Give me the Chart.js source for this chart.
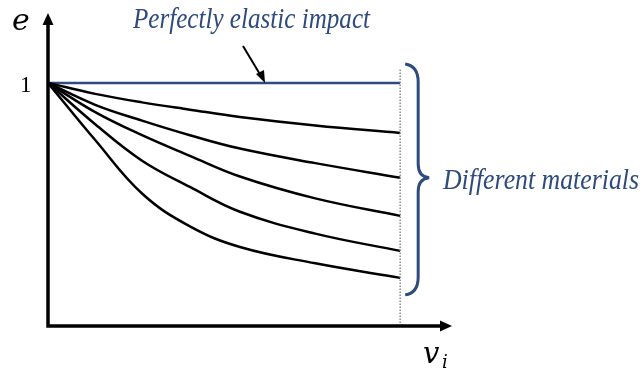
<!DOCTYPE html>
<html>
<head>
    <meta charset="UTF-8" />
    <title>Coefficient of restitution</title>
    <script src="https://cdn.jsdelivr.net/npm/chart.js@4/dist/chart.umd.min.js"></script>
    <style>
        body { margin: 0; background: white; }
        #wrap { width: 644px; height: 371px; position: relative; }
    </style>
</head>
<body>
    <div id="wrap"><canvas id="restitution"></canvas></div>

    <script>
        // impact velocity v_i (arbitrary units, 10 = dotted line on the right)
        var vi = [0, 1.34, 2.67, 4.03, 5.45, 7.59, 10];
        // coefficient of restitution e for each material, top to bottom
        var material1 = [1, 0.955, 0.92, 0.89, 0.86, 0.825, 0.794];
        var material2 = [1, 0.91, 0.845, 0.785, 0.73, 0.67, 0.61];
        var material3 = [1, 0.88, 0.785, 0.70, 0.615, 0.525, 0.453];
        var material4 = [1, 0.83, 0.68, 0.572, 0.47, 0.38, 0.309];
        var material5 = [1, 0.765, 0.545, 0.41, 0.325, 0.258, 0.198];
        var elasticX = [0, 10];
        var elasticE = [1, 1];
        var dividerX = [10, 10];
        var dividerE = [0, 1.06];

        var navy = '#2e4a7e';

        function pts(xs, ys) {
            return xs.map(function (x, i) { return { x: x, y: ys[i] }; });
        }

        var curves = [material1, material2, material3, material4, material5].map(function (m) {
            return {
                data: pts(vi, m),
                borderColor: 'black',
                borderWidth: 2.5,
                pointRadius: 0,
                showLine: true,
                tension: 0.4
            };
        });

        var datasets = [{
            data: pts(dividerX, dividerE),
            borderColor: '#8a8a8a',
            borderWidth: 1.5,
            borderDash: [1.5, 1.5],
            pointRadius: 0,
            showLine: true
        }].concat(curves).concat([{
            data: pts(elasticX, elasticE),
            borderColor: navy,
            borderWidth: 2.5,
            pointRadius: 0,
            showLine: true
        }]);

        // axes with arrows, labels, brace and callouts
        var decorations = {
            id: 'decorations',
            afterDraw: function (chart) {
                var ctx = chart.ctx;
                var a = chart.chartArea;
                var sx = chart.scales.x, sy = chart.scales.y;
                ctx.save();

                // axes
                ctx.strokeStyle = 'black';
                ctx.fillStyle = 'black';
                ctx.lineWidth = 3.5;
                ctx.beginPath();
                ctx.moveTo(a.left, a.top + 10);
                ctx.lineTo(a.left, a.bottom);
                ctx.lineTo(a.right - 10, a.bottom);
                ctx.stroke();
                ctx.beginPath();
                ctx.moveTo(a.left, a.top + 3);
                ctx.lineTo(a.left - 5.5, a.top + 15);
                ctx.lineTo(a.left + 5.5, a.top + 15);
                ctx.closePath();
                ctx.fill();
                ctx.beginPath();
                ctx.moveTo(a.right - 1, a.bottom);
                ctx.lineTo(a.right - 13, a.bottom - 5.5);
                ctx.lineTo(a.right - 13, a.bottom + 5.5);
                ctx.closePath();
                ctx.fill();

                // axis labels
                ctx.textBaseline = 'alphabetic';
                ctx.textAlign = 'left';
                ctx.font = 'italic 30px "DejaVu Serif"';
                ctx.fillText('e', 12, 30);
                ctx.font = 'italic 29px "DejaVu Serif"';
                ctx.fillText('v', 423, 363);
                ctx.font = 'italic 18px "DejaVu Serif"';
                ctx.fillText('i', 442, 368);
                ctx.font = '23px "Liberation Serif"';
                ctx.fillText('1', 20, sy.getPixelForValue(1) + 9);

                // callout arrow
                ctx.lineWidth = 2;
                ctx.beginPath();
                ctx.moveTo(243, 46);
                ctx.lineTo(261, 76);
                ctx.stroke();
                ctx.beginPath();
                ctx.moveTo(265, 83);
                ctx.lineTo(256, 74);
                ctx.lineTo(264, 70);
                ctx.closePath();
                ctx.fill();

                // brace
                var bx = sx.getPixelForValue(10) + 5;
                var top = sy.getPixelForValue(1.078);
                var mid = sy.getPixelForValue(0.61);
                var bot = sy.getPixelForValue(0.128);
                ctx.strokeStyle = navy;
                ctx.lineWidth = 3;
                ctx.beginPath();
                ctx.moveTo(bx, top);
                ctx.quadraticCurveTo(bx + 13, top + 2, bx + 13, top + 18);
                ctx.lineTo(bx + 13, mid - 14);
                ctx.quadraticCurveTo(bx + 13, mid - 1, bx + 24, mid);
                ctx.quadraticCurveTo(bx + 13, mid + 1, bx + 13, mid + 14);
                ctx.lineTo(bx + 13, bot - 18);
                ctx.quadraticCurveTo(bx + 13, bot - 2, bx, bot);
                ctx.stroke();

                // callout texts
                ctx.fillStyle = navy;
                ctx.font = 'italic 29px "Liberation Serif"';
                var w = ctx.measureText('Perfectly elastic impact').width;
                ctx.save();
                ctx.translate(133, 28);
                ctx.scale(237 / w, 1);
                ctx.fillText('Perfectly elastic impact', 0, 0);
                ctx.restore();
                w = ctx.measureText('Different materials').width;
                ctx.save();
                ctx.translate(443, 189);
                ctx.scale(196 / w, 1);
                ctx.fillText('Different materials', 0, 0);
                ctx.restore();

                ctx.restore();
            }
        };

        new Chart('restitution', {
            type: 'scatter',
            data: { datasets: datasets },
            options: {
                responsive: true,
                maintainAspectRatio: false,
                animation: false,
                layout: { padding: { left: 48, right: 191, top: 10, bottom: 45 } },
                plugins: { legend: { display: false }, tooltip: { enabled: false } },
                scales: {
                    x: { type: 'linear', min: 0, max: 11.5, display: false },
                    y: { type: 'linear', min: 0, max: 1.3, display: false }
                }
            },
            plugins: [decorations]
        });
    </script>
</body>
</html>
